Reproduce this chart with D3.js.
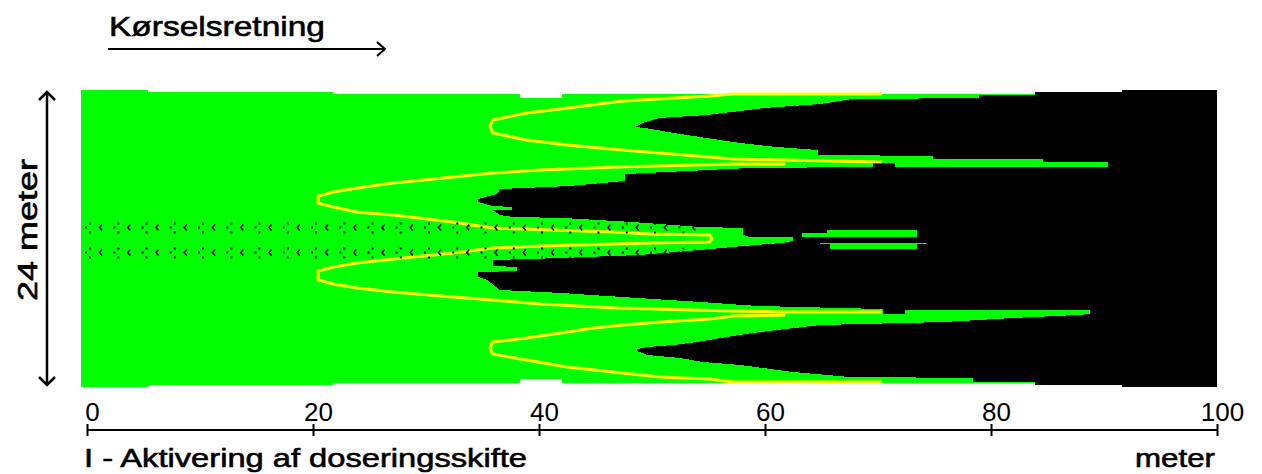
<!DOCTYPE html>
<html>
<head>
<meta charset="utf-8">
<script src="https://cdn.jsdelivr.net/npm/d3@7"></script>
<style>
  body { margin: 0; background: #fff; }
  text { font-family: "Liberation Sans", Arial, sans-serif; fill: #000; }
  .label { stroke: #000; stroke-width: 0.6; }
</style>
</head>
<body>
<div id="chart"></div>
<script>
// ── Data (metres: x along the driving direction, y across the 24 m bout) ─────
const xTickValues = [0, 20, 40, 60, 80, 100];

const fieldEdge = [
  [-0.5, 0], [5.4, 0], [5.4, 0.2], [21.8, 0.2], [21.8, 0.3], [38.3, 0.3], [38.3, 0.65],
  [42.0, 0.65], [42.0, 0.3], [83.9, 0.3], [83.9, 0.2], [91.6, 0.2], [91.6, 0], [100, 0],
  [100, 24], [91.6, 24], [91.6, 23.8], [83.9, 23.8], [83.9, 23.7], [42.0, 23.7], [42.0, 23.35],
  [38.3, 23.35], [38.3, 23.7], [21.8, 23.7], [21.8, 23.8], [5.4, 23.8], [5.4, 24], [-0.5, 24]
];

const blackZone = [
  [48.5, 2.99], [49.4, 2.59], [50.7, 2.26], [54.9, 2.02], [56.3, 1.86], [60.0, 1.45], [64.9, 1.13],
  [67.7, 0.73], [78.9, 0.65], [78.9, 0.4], [83.9, 0.4], [83.9, 0.2], [91.6, 0.2], [91.6, 0],
  [100, 0], [100, 24], [91.6, 24], [91.6, 23.8], [83.9, 23.8], [83.9, 23.6], [78.4, 23.6],
  [78.4, 23.27], [67.5, 23.19], [62.5, 22.79], [59.8, 22.46], [57.8, 22.22], [54.5, 21.98],
  [52.5, 21.66], [49.6, 21.41], [48.7, 21.1], [48.7, 20.93], [49.6, 20.77], [51.9, 20.61],
  [54.0, 20.36], [56.6, 19.96], [58.9, 19.64], [61.1, 19.39], [64.9, 18.99], [75.8, 18.75],
  [82.0, 18.42], [87.7, 18.18], [88.8, 18.1], [88.8, 17.78], [72.4, 17.78], [72.4, 18.1],
  [70.4, 18.1], [70.4, 17.7], [59.3, 17.45], [54.25, 17.13], [47.4, 16.73], [41.9, 16.4],
  [36.55, 16.16], [35.4, 15.35], [34.6, 15.11], [34.6, 14.71], [38.05, 14.63], [38.05, 14.3],
  [35.9, 14.22], [35.9, 13.74], [41.9, 13.58], [48.9, 13.33], [54.25, 12.93], [58.05, 12.61],
  [61.5, 12.36], [62.5, 12.2], [62.5, 11.88], [58.7, 11.88], [58.05, 11.72], [58.05, 11.15],
  [54.25, 11.07], [48.3, 10.67], [42.1, 10.34], [37.7, 10.26], [36.55, 10.1], [35.9, 9.7],
  [37.6, 9.7], [37.6, 9.45], [35.9, 9.37], [34.6, 9.05], [34.6, 8.81], [36.3, 8.4], [36.55, 8.0],
  [42.7, 7.76], [47.6, 7.35], [47.6, 6.79], [58.7, 6.3], [69.6, 6.22], [69.6, 5.9], [71.5, 5.9],
  [71.5, 6.22], [90.35, 6.22], [90.35, 5.82], [84.6, 5.82], [84.6, 5.58], [74.9, 5.58],
  [74.9, 5.33], [64.7, 5.25], [64.7, 4.85], [61.1, 4.61], [57.8, 4.28], [56.0, 4.04],
  [54.25, 3.8], [51.9, 3.47], [49.4, 3.07]
];

const centreBars = [
  [[63.3, 11.55], [65.5, 11.55], [65.5, 11.3], [73.45, 11.3], [73.45, 11.88], [63.3, 11.88]],
  [[64.9, 12.36], [74.3, 12.36], [74.3, 12.45], [73.45, 12.45], [73.45, 12.85], [65.75, 12.85],
   [65.75, 12.45], [64.9, 12.45]]
];

const contourTop = [
  [70.35, 0.32], [57.2, 0.32], [55.1, 0.48], [47.4, 0.89], [42.5, 1.45], [38.9, 1.86], [35.9, 2.42],
  [35.66, 2.91], [35.9, 3.47], [38.9, 4.04], [42.5, 4.44], [47.4, 4.85], [50.7, 5.09], [55.1, 5.41],
  [57.2, 5.58], [61.8, 5.66], [70.35, 5.82]
];

const contourMiddle = [
  [61.8, 5.98], [57.2, 5.98], [46.9, 6.22], [40.1, 6.46], [35.9, 6.71], [32.4, 7.03], [27.1, 7.52],
  [23.9, 7.92], [21.8, 8.24], [20.45, 8.57], [20.45, 9.13], [21.8, 9.45], [23.9, 9.86], [27.1, 10.1],
  [32.4, 10.67], [35.9, 11.15], [46.55, 11.47], [49.8, 11.64], [55.1, 11.72], [55.3, 12.04],
  [55.1, 12.28], [49.8, 12.36], [46.55, 12.44], [40.1, 12.61], [35.9, 12.77], [32.4, 13.17],
  [27.1, 13.66], [23.9, 13.98], [21.8, 14.3], [20.45, 14.63], [20.45, 15.35], [21.8, 15.68],
  [23.9, 16.0], [27.1, 16.32], [32.4, 16.73], [35.9, 16.97], [40.1, 17.29], [46.9, 17.62],
  [57.2, 17.86], [61.8, 17.94], [70.35, 17.94]
];

const contourBottom = [
  [61.8, 18.18], [57.2, 18.26], [55.1, 18.51], [50.7, 18.75], [47.4, 18.99], [44.8, 19.23],
  [42.5, 19.56], [38.9, 20.04], [35.9, 20.36], [35.66, 20.85], [35.9, 21.33], [38.9, 21.82],
  [42.5, 22.38], [47.4, 22.87], [50.7, 23.19], [55.1, 23.35], [57.2, 23.6], [70.35, 23.6]
];

// dosing-shift markers, every 2.5 m along the two centre rows
const markerColumns = [0, 2.5, 5, 7.5, 10, 12.5, 15, 17.5, 20, 22.5, 25, 27.5, 30, 32.5, 35,
  37.5, 40, 42.5, 45, 47.5, 50, 52.5];
const markerRows = [11.11, 13.13];

// ── Setup ─────────────────────────────────────────────────────────────────
const width = 1262, height = 474;
const GREEN = "#00ff00", YELLOW = "#ffff00";

const svg = d3.select("#chart").append("svg").attr("width", width).attr("height", height);

const x = d3.scaleLinear().domain([0, 100]).range([87, 1217]);
const y = d3.scaleLinear().domain([0, 24]).range([90, 387]);

const line = d3.line().x(d => x(d[0])).y(d => y(d[1]));

// ── Field, black zone, bars ───────────────────────────────────────────────
svg.append("path").attr("d", line(fieldEdge) + "Z").attr("fill", GREEN).attr("shape-rendering", "crispEdges");
svg.append("path").attr("d", line(blackZone) + "Z").attr("fill", "#000").attr("shape-rendering", "crispEdges");

svg.selectAll("path.bar")
  .data(centreBars).join("path")
  .attr("class", "bar")
  .attr("d", d => line(d) + "Z")
  .attr("fill", GREEN)
  .attr("shape-rendering", "crispEdges");

// ── Yellow contours ───────────────────────────────────────────────────────
svg.selectAll("path.contour")
  .data([contourTop, contourMiddle, contourBottom]).join("path")
  .attr("class", "contour")
  .attr("d", line)
  .attr("fill", "none")
  .attr("stroke", YELLOW)
  .attr("stroke-width", 3)
  .attr("stroke-linejoin", "miter");

// ── Markers ───────────────────────────────────────────────────────────────
const markerData = markerRows.flatMap(r => markerColumns.map(c => [c, r]));
const markers = svg.selectAll("g.marker")
  .data(markerData).join("g")
  .attr("class", "marker")
  .attr("transform", d => `translate(${x(d[0]) - 1},${y(d[1])})`);

[[-1, -1], [3, -5], [3, 4]].forEach(([dx, dy]) => {
  markers.append("rect").attr("x", dx).attr("y", dy).attr("width", 2).attr("height", 2).attr("fill", "#000");
});
markers.append("path").attr("d", "M16,-3L13.5,0L16,3").attr("fill", "none").attr("stroke", "#000").attr("stroke-width", 1.6);

// ── Axis ──────────────────────────────────────────────────────────────────
svg.append("line")
  .attr("x1", x(0)).attr("x2", x(100)).attr("y1", 430).attr("y2", 430)
  .attr("stroke", "#000").attr("stroke-width", 2);

svg.append("g")
  .attr("transform", "translate(0,436)")
  .call(d3.axisTop(x).tickValues(xTickValues).tickSize(12).tickPadding(3))
  .call(g => g.select(".domain").remove())
  .call(g => g.selectAll(".tick line").attr("stroke", "#000").attr("stroke-width", 2))
  .call(g => g.selectAll(".tick text")
    .attr("font-family", '"Liberation Sans", Arial, sans-serif')
    .attr("font-size", 26).attr("dx", 5).attr("fill", "#000"));

// ── Annotations ───────────────────────────────────────────────────────────
svg.append("text").attr("class", "label").attr("x", 109).attr("y", 36).attr("font-size", 28)
  .attr("textLength", 216).attr("lengthAdjust", "spacingAndGlyphs").text("Kørselsretning");

svg.append("path").attr("d", "M108,49H385M377,42L385,49L377,56")
  .attr("fill", "none").attr("stroke", "#000").attr("stroke-width", 2);

svg.append("path").attr("d", "M47,92V385M39,100L47,92L55,100M39,377L47,385L55,377")
  .attr("fill", "none").attr("stroke", "#000").attr("stroke-width", 2.5);

svg.append("text").attr("class", "label").attr("transform", "translate(37,230) rotate(-90)")
  .attr("text-anchor", "middle").attr("font-size", 27)
  .attr("textLength", 142).attr("lengthAdjust", "spacingAndGlyphs").text("24 meter");

svg.append("text").attr("class", "label").attr("x", 84).attr("y", 467).attr("font-size", 26)
  .attr("textLength", 443).attr("lengthAdjust", "spacingAndGlyphs").text("I - Aktivering af doseringsskifte");

svg.append("text").attr("class", "label").attr("x", 1135).attr("y", 467).attr("font-size", 26)
  .attr("textLength", 80).attr("lengthAdjust", "spacingAndGlyphs").text("meter");
</script>
</body>
</html>
